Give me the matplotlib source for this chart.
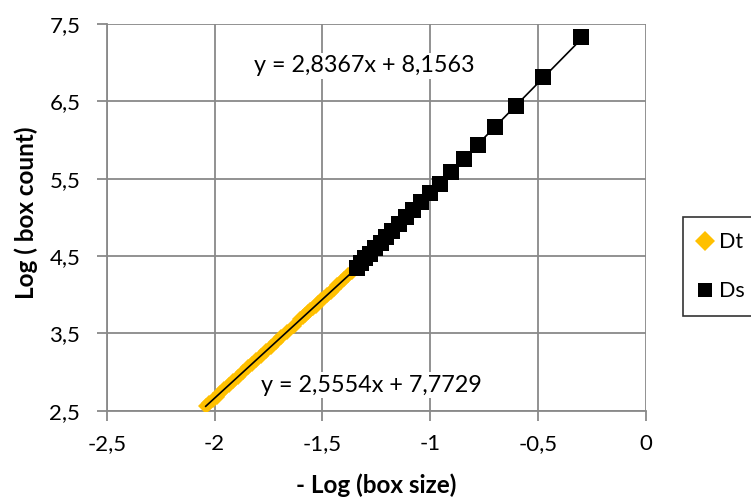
import matplotlib
matplotlib.use("Agg")
import matplotlib.pyplot as plt
from matplotlib.lines import Line2D

plt.rcParams['font.family'] = ['Lato', 'DejaVu Sans']

# Dt series (- log box size, log box count)
dt_x = [-1.342, -1.362, -1.380, -1.398, -1.415, -1.431, -1.447, -1.462, -1.477,
        -1.491, -1.505, -1.519, -1.531, -1.544, -1.556, -1.568, -1.580, -1.591,
        -1.602, -1.634, -1.663, -1.690, -1.716, -1.740, -1.763, -1.785, -1.806,
        -1.826, -1.845, -1.869, -1.892, -1.914, -1.935, -1.954, -1.973, -1.991,
        -2.009, -2.025, -2.041]
dt_y = [4.34, 4.29, 4.25, 4.20, 4.16, 4.12, 4.07, 4.04, 4.00,
        3.96, 3.93, 3.89, 3.86, 3.83, 3.80, 3.77, 3.74, 3.71,
        3.68, 3.60, 3.52, 3.45, 3.39, 3.33, 3.27, 3.21, 3.16,
        3.11, 3.06, 3.00, 2.94, 2.88, 2.83, 2.78, 2.73, 2.68,
        2.64, 2.60, 2.56]

# Ds series
ds_x = [-0.301, -0.477, -0.602, -0.699, -0.778, -0.845, -0.903, -0.954, -1.000,
        -1.041, -1.079, -1.114, -1.146, -1.176, -1.204, -1.230, -1.255, -1.279,
        -1.301, -1.322, -1.342]
ds_y = [7.33, 6.81, 6.44, 6.17, 5.94, 5.75, 5.59, 5.43, 5.31,
        5.20, 5.10, 5.00, 4.91, 4.82, 4.74, 4.67, 4.60, 4.53,
        4.47, 4.41, 4.35]

# Linear trend lines (slope, intercept)
dt_fit = (2.5554, 7.7729)
ds_fit = (2.8367, 8.1563)

x_ticks = [-2.5, -2, -1.5, -1, -0.5, 0]
x_labels = ['-2,5', '-2', '-1,5', '-1', '-0,5', '0']
y_ticks = [2.5, 3.5, 4.5, 5.5, 6.5, 7.5]
y_labels = ['2,5', '3,5', '4,5', '5,5', '6,5', '7,5']

ORANGE = '#FFC000'
GRID = '#898989'

fig = plt.figure(figsize=(7.51, 4.98), dpi=100)
ax = fig.add_axes([0.1421, 0.1753, 0.8602 - 0.1421, 0.9518 - 0.1753])

ax.plot(dt_x, dt_y, linestyle='none', marker='D', markersize=8.5,
        color=ORANGE, markeredgewidth=0, zorder=3)
ax.plot(ds_x, ds_y, linestyle='none', marker='s', markersize=11,
        color='black', markeredgewidth=0, zorder=4)

# trend lines
dxs = [min(dt_x), max(dt_x)]
ax.plot(dxs, [dt_fit[0] * v + dt_fit[1] for v in dxs], color='black', lw=1.2, zorder=5)
sxs = [min(ds_x), max(ds_x)]
ax.plot(sxs, [ds_fit[0] * v + ds_fit[1] for v in sxs], color='black', lw=1.2, zorder=3.5)

ax.set_xlim(-2.5, 0)
ax.set_ylim(2.5, 7.5)
ax.set_xticks(x_ticks)
ax.set_xticklabels(x_labels)
ax.set_yticks(y_ticks)
ax.set_yticklabels(y_labels)
ax.grid(True, color=GRID, lw=1.3)
ax.set_axisbelow(True)
for s in ['top', 'right']:
    ax.spines[s].set_visible(False)
for s in ['left', 'bottom']:
    ax.spines[s].set_color(GRID)
    ax.spines[s].set_linewidth(1.3)
ax.tick_params(axis='both', colors=GRID, length=7, width=1.3, labelsize=16,
               labelcolor='black')
ax.tick_params(axis='x', pad=10)
ax.tick_params(axis='y', pad=12)

ax.set_xlabel('- Log (box size)', fontsize=17.5, fontweight='bold')
ax.xaxis.set_label_coords(0.5, -(485 - 410.7) / (410.7 - 24), transform=ax.transAxes)
ax.set_ylabel('Log ( box count)', fontsize=17.5, fontweight='bold')
ax.yaxis.set_label_coords(-(106.7 - 26) / (646 - 106.7), (410.7 - 213) / (410.7 - 24),
                          transform=ax.transAxes)
ax.xaxis.label.set_va('center')
ax.yaxis.label.set_va('center')

bb = dict(facecolor='white', edgecolor='none', pad=2)
ax.text(-1.304, 6.957, 'y = 2,8367x + 8,1563', fontsize=16.8, ha='center', va='center',
        bbox=bb, zorder=6)
ax.text(-1.272, 2.832, 'y = 2,5554x + 7,7729', fontsize=16.8, ha='center', va='center',
        bbox=bb, zorder=6)

handles = [Line2D([], [], linestyle='none', marker='D', color=ORANGE, markersize=10,
                  markeredgewidth=0),
           Line2D([], [], linestyle='none', marker='s', color='black', markersize=10,
                  markeredgewidth=0)]
leg = fig.legend(handles, ['Dt', 'Ds'], loc='upper left',
                 bbox_to_anchor=(683 / 751, 1 - 217 / 498), fontsize=15.5,
                 frameon=True, fancybox=False, handlelength=0.6, handletextpad=0.35,
                 borderpad=0.7, labelspacing=1.35, borderaxespad=0)
leg.get_frame().set_edgecolor('black')
leg.get_frame().set_linewidth(1.2)

fig.savefig('out.png', dpi=100)
